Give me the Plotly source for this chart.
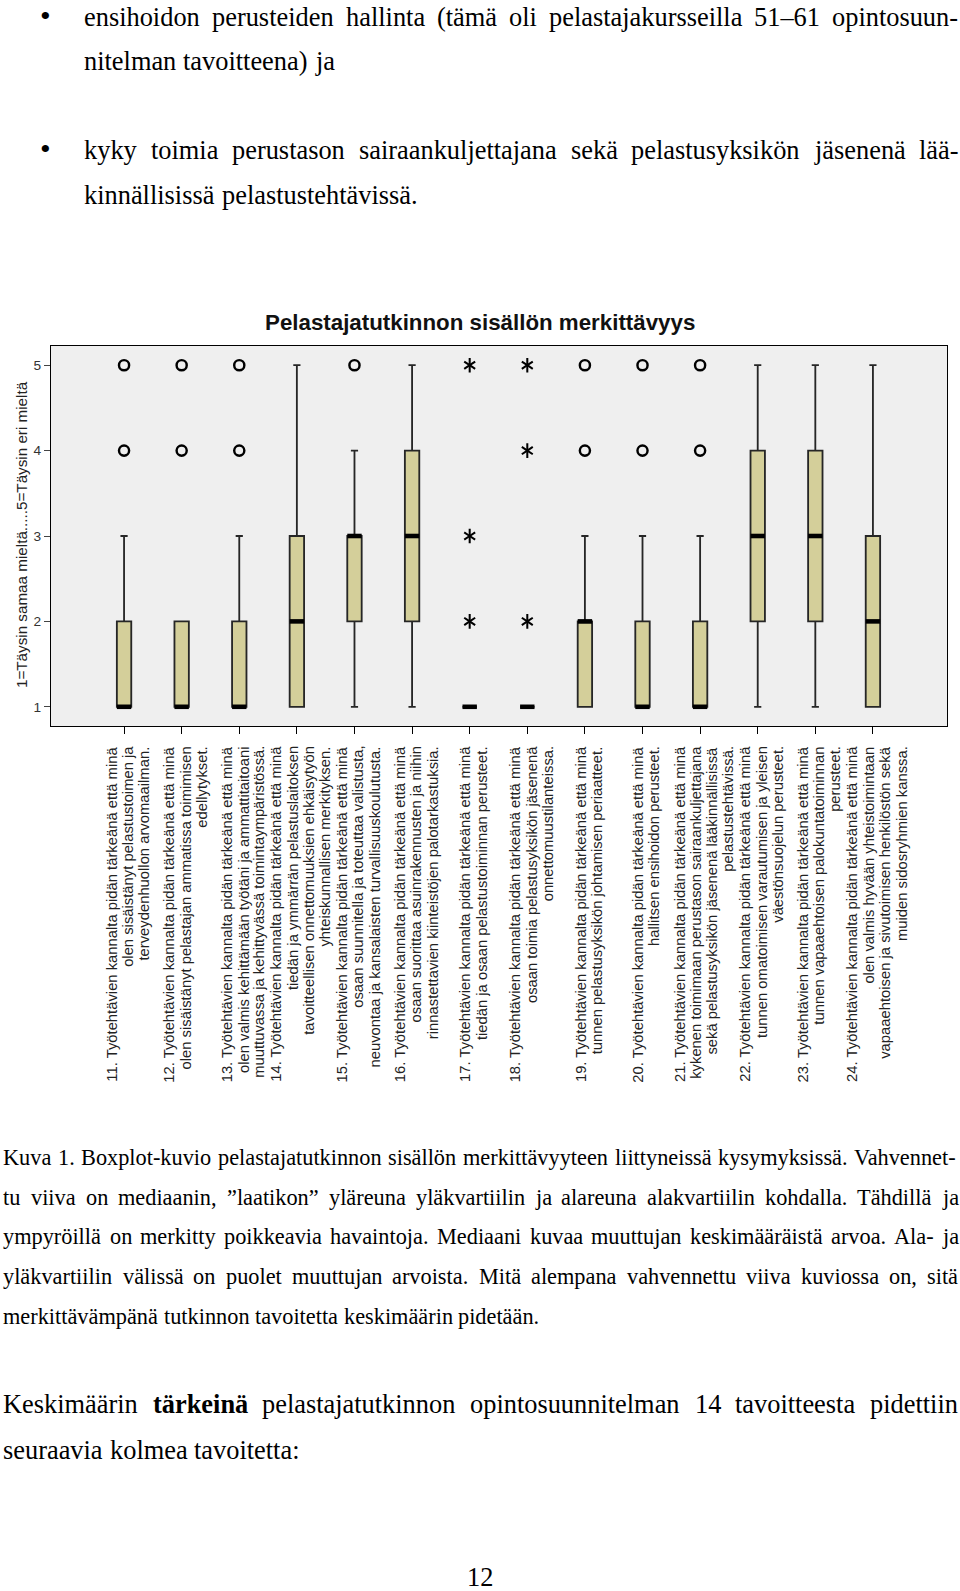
import plotly.graph_objects as go

# ---------------- data ----------------
items = ["11", "12", "13", "14", "15", "16", "17", "18", "19", "20", "21", "22", "23", "24"]
tick_labels = [
    "11. Työtehtävien kannalta pidän tärkeänä että minä<br>olen sisäistänyt pelastustoimen ja<br>terveydenhuollon arvomaailman.",
    "12. Työtehtävien kannalta pidän tärkeänä että minä<br>olen sisäistänyt pelastajan ammatissa toimimisen<br>edellytykset.",
    "13. Työtehtävien kannalta pidän tärkeänä että minä<br>olen valmis kehittämään työtäni ja ammattitaitoani<br>muuttuvassa ja kehittyvässä toimintaympäristössä.",
    "14. Työtehtävien kannalta pidän tärkeänä että minä<br>tiedän ja ymmärrän pelastuslaitoksen<br>tavoitteellisen onnettomuuksien ehkäisytyön<br>yhteiskunnallisen merkityksen.",
    "15. Työtehtävien kannalta pidän tärkeänä että minä<br>osaan suunnitella ja toteuttaa valistusta,<br>neuvontaa ja kansalaisten turvallisuuskoulutusta.",
    "16. Työtehtävien kannalta pidän tärkeänä että minä<br>osaan suorittaa asuinrakennusten ja niihin<br>rinnastettavien kiinteistöjen palotarkastuksia.",
    "17. Työtehtävien kannalta pidän tärkeänä että minä<br>tiedän ja osaan pelastustoiminnan perusteet.",
    "18. Työtehtävien kannalta pidän tärkeänä että minä<br>osaan toimia pelastusyksikön jäsenenä<br>onnettomuustilanteissa.",
    "19. Työtehtävien kannalta pidän tärkeänä että minä<br>tunnen pelastusyksikön johtamisen periaatteet.",
    "20. Työtehtävien kannalta pidän tärkeänä että minä<br>hallitsen ensihoidon perusteet.",
    "21. Työtehtävien kannalta pidän tärkeänä että minä<br>kykenen toimimaan perustason sairaankuljettajana<br>sekä pelastusyksikön jäsenenä lääkinnällisissä<br>pelastustehtävissä.",
    "22. Työtehtävien kannalta pidän tärkeänä että minä<br>tunnen omatoimisen varautumisen ja yleisen<br>väestönsuojelun perusteet.",
    "23. Työtehtävien kannalta pidän tärkeänä että minä<br>tunnen vapaaehtoisen palokuntatoiminnan<br>perusteet.",
    "24. Työtehtävien kannalta pidän tärkeänä että minä<br>olen valmis hyvään yhteistoimintaan<br>vapaaehtoisen ja sivutoimisen henkilöstön sekä<br>muiden sidosryhmien kanssa.",
]
q1 =          [1, 1, 1, 1, 2, 2, 1, 1, 1, 1, 1, 2, 2, 1]
median =      [1, 1, 1, 2, 3, 3, 1, 1, 2, 1, 1, 3, 3, 2]
q3 =          [2, 2, 2, 3, 3, 4, 1, 1, 2, 2, 2, 4, 4, 3]
lowerfence =  [1, 1, 1, 1, 1, 1, 1, 1, 1, 1, 1, 1, 1, 1]
upperfence =  [3, 2, 3, 5, 4, 5, 1, 1, 3, 3, 3, 5, 5, 5]
circle_outliers = [[4, 5], [4, 5], [4, 5], [], [5], [], [], [], [4, 5], [4, 5], [4, 5], [], [], []]
star_outliers =   [[], [], [], [], [], [], [2, 3, 5], [2, 4, 5], [], [], [], [], [], []]
y_ticks = [1, 2, 3, 4, 5]

chart_title = "Pelastajatutkinnon sisällön merkittävyys"
y_title = "1=Täysin samaa mieltä.....5=Täysin eri mieltä"

# ---------------- page geometry (reference pixels, scaled by S for the capture) ----------------
S = 1.0147
RW, RH = 960, 1591
RPL, RPR, RPT, RPB = 50, 933, 341, 716
W, H = round(RW * S), round(RH * S)
BOX_W = 0.25
UNIT_PX = 56.77                                  # reference pixels per category step


def px_x(px):
    return (px - RPL) / (RPR - RPL)


def px_y(py):
    return (RPB - py) / (RPB - RPT)


def fs(v):
    return v * S


pos = list(range(len(items)))

fig = go.Figure()
fig.add_trace(go.Box(
    x=pos, q1=q1, median=median, q3=q3,
    lowerfence=lowerfence, upperfence=upperfence,
    width=BOX_W, whiskerwidth=0.5, boxpoints=False,
    fillcolor="#d4cf9a", line=dict(color="#262626", width=fs(1.8)),
    showlegend=False, hoverinfo="skip",
))

# thick median lines
mx, my = [], []
for i, m in enumerate(median):
    mx += [i - BOX_W / 2, i + BOX_W / 2, None]
    my += [m, m, None]
fig.add_trace(go.Scatter(x=mx, y=my, mode="lines", line=dict(color="black", width=fs(4.5)),
                         showlegend=False, hoverinfo="skip"))

cx = [i for i, outs in enumerate(circle_outliers) for v in outs]
cy = [v for outs in circle_outliers for v in outs]
fig.add_trace(go.Scatter(x=cx, y=cy, mode="markers",
                         marker=dict(symbol="circle-open", size=fs(10), color="black", line=dict(width=fs(2.4))),
                         showlegend=False, hoverinfo="skip"))

sx = [i for i, outs in enumerate(star_outliers) for v in outs]
sy = [v for outs in star_outliers for v in outs]
for sym in ["y-up-open", "y-down-open"]:
    fig.add_trace(go.Scatter(x=sx, y=sy, mode="markers",
                             marker=dict(symbol=sym, size=fs(9), color="black",
                                         line=dict(width=fs(2), color="black")),
                             showlegend=False, hoverinfo="skip"))

x0 = -(122 - RPL) / UNIT_PX
x1 = 13 + (RPR - 860) / UNIT_PX
fig.update_xaxes(range=[x0, x1], tickmode="array", tickvals=pos, showticklabels=False,
                 ticks="outside", ticklen=fs(7), tickcolor="black", tickwidth=1,
                 showline=True, mirror=True, linecolor="black", linewidth=1,
                 showgrid=False, zeroline=False, automargin=False)
fig.update_yaxes(range=[0.775, 5.225], tickmode="array", tickvals=y_ticks,
                 ticks="outside", ticklen=fs(6), tickcolor="#444444",
                 showline=True, mirror=True, linecolor="black", linewidth=1,
                 showgrid=False, zeroline=False, automargin=False,
                 tickfont=dict(family="Liberation Sans, Arial", size=fs(13.5), color="#333333"))

SANS = "Liberation Sans, Arial, sans-serif"
annotations = []
annotations.append(dict(text="<b>" + chart_title + "</b>", x=px_x(473), y=px_y(318),
                        xref="paper", yref="paper", showarrow=False, xanchor="center", yanchor="middle",
                        font=dict(family=SANS, size=fs(22), color="#111111")))
annotations.append(dict(text=y_title, x=px_x(21), y=px_y(527), textangle=-90,
                        xref="paper", yref="paper", showarrow=False, xanchor="center", yanchor="middle",
                        font=dict(family=SANS, size=fs(15), color="#222222")))

# rotated category labels, one annotation per wrapped line
LINE_GAP = 16.0
for i, lab in enumerate(tick_labels):
    lines = lab.split("<br>")
    n = len(lines)
    for k, ln in enumerate(lines):
        off_px = 4 + (k - (n - 1) / 2.0) * LINE_GAP
        annotations.append(dict(text=ln, x=pos[i] + off_px / UNIT_PX, xref="x",
                                y=px_y(735), yref="paper", textangle=-90, showarrow=False,
                                xanchor="center", yanchor="top", borderpad=0,
                                font=dict(family=SANS, size=fs(14.6), color="#222222")))

# ---------------- document text (Times metrics for justification) ----------------
REG = {'a': 444, 'b': 500, 'c': 444, 'd': 500, 'e': 444, 'f': 333, 'g': 500, 'h': 500, 'i': 278, 'j': 278,
       'k': 500, 'l': 278, 'm': 778, 'n': 500, 'o': 500, 'p': 500, 'q': 500, 'r': 333, 's': 389, 't': 278,
       'u': 500, 'v': 500, 'w': 722, 'x': 500, 'y': 500, 'z': 444, 'ä': 444, 'ö': 500, 'å': 444,
       'A': 722, 'B': 667, 'K': 722, 'M': 889, 'T': 611, 'V': 722, ' ': 250, '.': 250, ',': 250,
       ':': 278, '-': 333, '–': 500, '(': 333, ')': 333, '”': 444, '"': 408}
BOLD = {'a': 500, 'e': 444, 'i': 278, 'k': 556, 'n': 556, 'r': 444, 't': 333, 'ä': 500}


def word_width(w, size, bold=False):
    tab = BOLD if bold else REG
    return sum(tab.get(ch, REG.get(ch, 500)) for ch in w) * size / 1000.0


SERIF = "Liberation Serif, Times New Roman, serif"


def add_line(text, left, right, ycen, size):
    # size and positions in reference pixels
    words = text.split(" ")
    toks = []
    for w in words:
        bold = w.startswith("**")
        clean = w.strip("*")
        toks.append((clean, bold, word_width(clean, size, bold)))
    if right is None or len(toks) == 1:
        gap = 250 * size / 1000.0
    else:
        gap = (right - left - sum(t[2] for t in toks)) / (len(toks) - 1)
    xcur = left
    for clean, bold, wd in toks:
        annotations.append(dict(text=("<b>%s</b>" % clean) if bold else clean,
                                x=px_x(xcur), y=px_y(ycen), xref="paper", yref="paper",
                                showarrow=False, xanchor="left", yanchor="middle", borderpad=0,
                                font=dict(family=SERIF, size=fs(size), color="black")))
        xcur += wd + gap


MAIN = 26
CAP = 22
for yb in [15, 147]:
    annotations.append(dict(text="•", x=px_x(45), y=px_y(yb), xref="paper", yref="paper", showarrow=False,
                            xanchor="center", yanchor="middle", font=dict(family=SERIF, size=fs(30), color="black")))
add_line("ensihoidon perusteiden hallinta (tämä oli pelastajakursseilla 51–61 opintosuun-", 82, 943, 16, MAIN)
add_line("nitelman tavoitteena) ja", 82, None, 60, MAIN)
add_line("kyky toimia perustason sairaankuljettajana sekä pelastusyksikön jäsenenä lää-", 82, 943, 148, MAIN)
add_line("kinnällisissä pelastustehtävissä.", 82, None, 192, MAIN)

add_line("Kuva 1. Boxplot-kuvio pelastajatutkinnon sisällön merkittävyyteen liittyneissä kysymyksissä. Vahvennet-", 2, 943, 1142, CAP)
add_line("tu viiva on mediaanin, ”laatikon” yläreuna yläkvartiilin ja alareuna alakvartiilin kohdalla. Tähdillä ja", 2, 943, 1181, CAP)
add_line("ympyröillä on merkitty poikkeavia havaintoja. Mediaani kuvaa muuttujan keskimääräistä arvoa. Ala- ja", 2, 943, 1220, CAP)
add_line("yläkvartiilin välissä on puolet muuttujan arvoista. Mitä alempana vahvennettu viiva kuviossa on, sitä", 2, 943, 1259, CAP)
add_line("merkittävämpänä tutkinnon tavoitetta keskimäärin pidetään.", 2, None, 1299, CAP)

add_line("Keskimäärin **tärkeinä** pelastajatutkinnon opintosuunnitelman 14 tavoitteesta pidettiin", 2, 943, 1385, MAIN)
add_line("seuraavia kolmea tavoitetta:", 2, None, 1430, MAIN)

annotations.append(dict(text="12", x=px_x(473), y=px_y(1556), xref="paper", yref="paper", showarrow=False,
                        xanchor="center", yanchor="middle", font=dict(family=SERIF, size=fs(26), color="black")))

fig.update_layout(
    template="none",
    width=W, height=H,
    margin=dict(l=RPL * S, r=(RW - RPR) * S, t=RPT * S, b=(RH - RPB) * S, pad=0),
    paper_bgcolor="white", plot_bgcolor="#efefef",
    showlegend=False,
    annotations=annotations,
)

fig.write_html("out.html", config={"displayModeBar": False},
               post_script="document.body.style.margin='0';document.body.style.overflow='hidden';")
